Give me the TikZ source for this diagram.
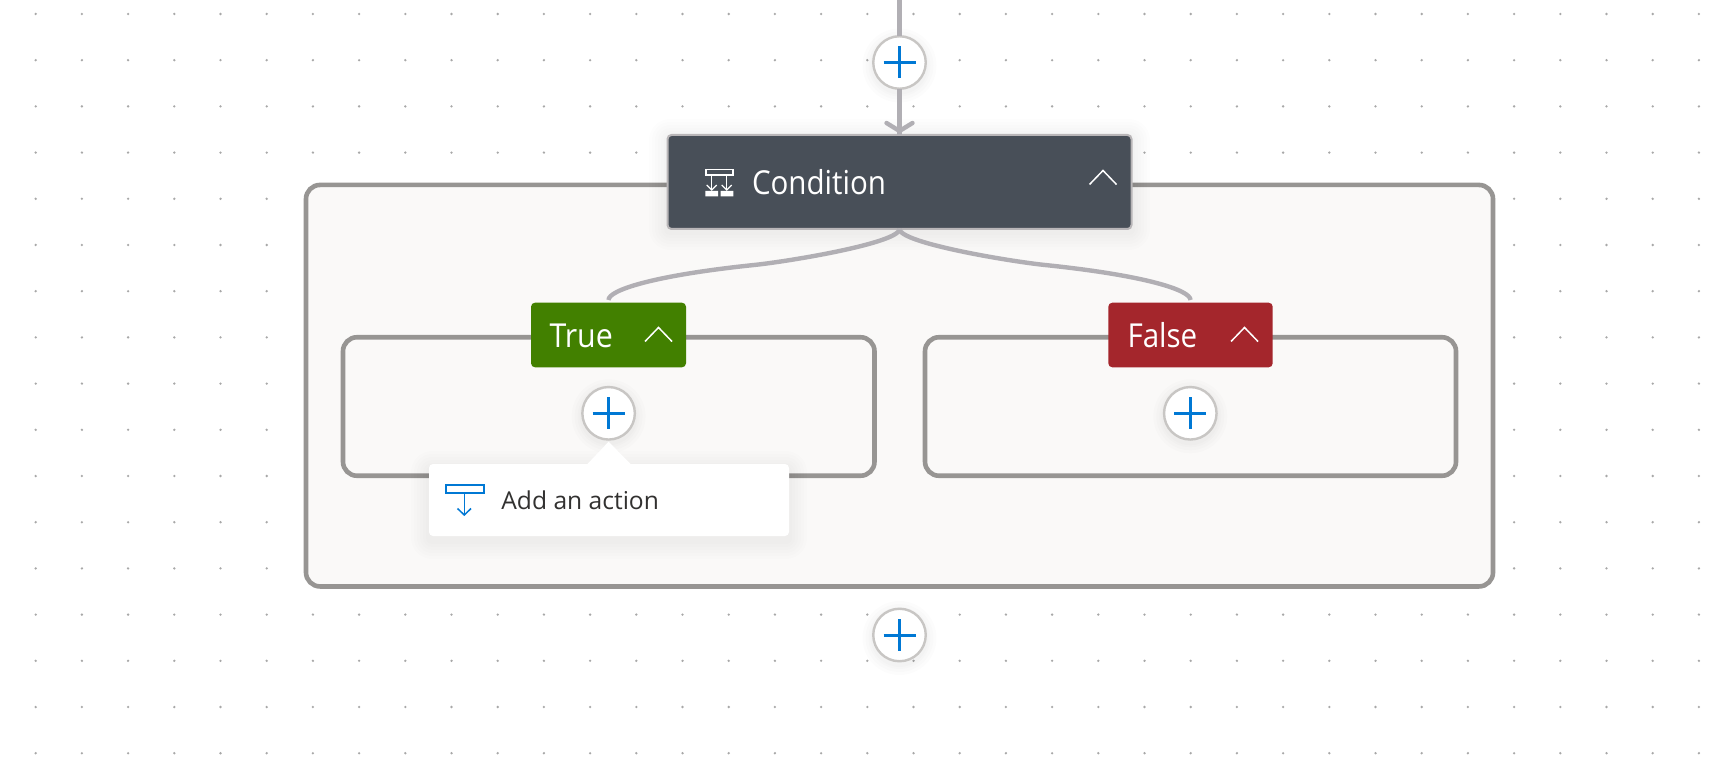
\documentclass[tikz,border=0pt]{standalone}
\usepackage{fontspec}
\setmainfont{Open Sans}
\newfontfamily\headfont[FakeStretch=0.895]{Open Sans}
\newfontfamily\truefont[FakeStretch=0.92]{Open Sans}
\usetikzlibrary{arrows.meta}
\definecolor{panelfill}{HTML}{FAF9F8}
\definecolor{panelline}{HTML}{979593}
\definecolor{conn}{HTML}{B1AFB4}
\definecolor{condfill}{HTML}{484F58}
\definecolor{condline}{HTML}{B9B6B8}
\definecolor{truefill}{HTML}{428000}
\definecolor{falsefill}{HTML}{A4262C}
\definecolor{azure}{HTML}{0078D4}
\definecolor{ringc}{HTML}{C8C6C4}
\definecolor{dotc}{HTML}{A8A8A8}
\definecolor{inktext}{HTML}{323130}
\newcommand{\softshadow}[6]{% x0,y0,x1,y1,offset,opacity
  \foreach \g in {18,15,12,9,6,3}{
    \fill[black,opacity=#6,rounded corners=3pt+\g*1pt] (#1-\g,#2-\g+#5) rectangle (#3+\g,#4+\g+#5);
  }}
\newcommand{\chevup}[3]{% centre x, peak y, half width
  \draw[white,line width=1.5pt] (#1-#3,#2+14) -- (#1,#2) -- (#1+#3,#2+14);}
\tikzset{
  panel/.style={draw=panelline,line width=4.6pt,fill=panelfill,rounded corners=14pt,inner sep=0pt,outer sep=0pt},
  headbox/.style={rounded corners=4pt,inner sep=0pt,outer sep=0pt,text=white},
  plusnode/.style={circle,draw=ringc,line width=2.4pt,fill=white,minimum size=52.5pt,inner sep=0pt,outer sep=0pt},
  plusmark/.style={draw=azure,line width=3pt},
  conline/.style={draw=conn,line width=4.4pt},
  label/.style={anchor=base west,inner sep=0pt,outer sep=0pt},
}
\newcommand{\plusat}[3]{%
  \foreach \g in {10,7,4,2}{\fill[black,opacity=0.012] (#2,#3+3) circle ({27+\g});}
  \node[plusnode] (#1) at (#2,#3) {};
  \draw[plusmark] (#2-16,#3) -- (#2+16,#3);
  \draw[plusmark] (#2,#3-16) -- (#2,#3+16);}
\begin{document}
\begin{tikzpicture}[x=1pt,y=-1pt]
\useasboundingbox (0,0) rectangle (1720,775);
\fill[white] (0,0) rectangle (1720,775);
% dotted canvas
\foreach \i in {0,...,36}{\foreach \j in {0,...,16}{
  \fill[dotc] ({35.7+46.2*\i},{14+46.2*\j}) circle (1.3);}}
% panels
\node[panel,minimum width=1187pt,minimum height=401.5pt] (outer) at (899.5,385.7) {};
\node[panel,minimum width=531.5pt,minimum height=138.5pt] (truebox) at (608.75,406.5) {};
\node[panel,minimum width=531pt,minimum height=138.5pt] (falsebox) at (1190.5,406.5) {};
% top connector
\coordinate (topend) at (899.5,0);
% headers
\softshadow{667}{135}{1132}{230}{2}{0.008}
\node[headbox,fill=condfill,draw=condline,line width=2pt,minimum width=464pt,minimum height=94pt] (cond) at (899.5,182) {};
\node[headbox,fill=truefill,minimum width=155pt,minimum height=64.6pt] (truehead) at (608.5,335) {};
\node[headbox,fill=falsefill,minimum width=164.4pt,minimum height=64.6pt] (falsehead) at (1190.5,335) {};
\node[label,text=white] (condtext) at (752,195) {\headfont\fontsize{33}{40}\selectfont Condition};
\node[label,text=white] (truetext) at (549.5,347.5) {\truefont\fontsize{33}{40}\selectfont True};
\node[label,text=white] (falsetext) at (1127.5,347.5) {\headfont\fontsize{33}{40}\selectfont False};
\chevup{1103}{170.5}{13.5}
\chevup{658.5}{327.5}{13.5}
\chevup{1244.5}{327.5}{13.5}
% condition icon
\draw[white,line width=1.5pt] (706,169.5) rectangle (733,175);
\draw[white,line width=1.2pt] (711.7,175) -- (711.7,190) (726.7,175) -- (726.7,190);
\draw[white,line width=1.2pt] (706.7,185) -- (711.7,190) -- (716.7,185) (721.7,185) -- (726.7,190) -- (731.7,185);
\fill[white] (705.3,191) rectangle (718,196.5) (720.7,191) rectangle (733.3,196.5);
% plus buttons
\plusat{plustop}{899.5}{62.5}
\plusat{plustrue}{608.6}{413.3}
\plusat{plusfalse}{1190.3}{413.3}
\plusat{plusbottom}{899.5}{635}
% connectors
\draw[conline] (topend) -- (plustop);
\draw[conline] (plustop) -- (cond.north);
\draw[conn,line width=4.4pt,line cap=round,line join=miter] (886.5,123) -- (899.5,131) -- (912.5,123);
\coordinate (midleft) at (754,265);
\coordinate (midright) at (1045,265);
\coordinate (endleft) at (608.5,300);
\coordinate (endright) at (1190.5,300);
\draw[conline] (cond.south) .. controls +(0,14) and +(35,-3.6) .. (midleft) .. controls +(-100,10.4) and +(0,-10) .. (endleft);
\draw[conline] (cond.south) .. controls +(0,14) and +(-35,-3.6) .. (midright) .. controls +(100,10.4) and +(0,-10) .. (endright);
% popup
\softshadow{429}{464}{789}{536}{5}{0.009}
\node[headbox,fill=white,minimum width=360pt,minimum height=72pt] (popup) at (609,500) {};
\fill[white] (587,464.5) -- (608.6,441.7) -- (631,464.5) -- cycle;
\draw[azure,line width=2pt] (446,485) rectangle (484,493);
\draw[azure,line width=1.5pt] (464.3,493) -- (464.3,515);
\draw[azure,line width=1.5pt] (457.5,508.5) -- (464.3,515) -- (471,508.5);
\node[label,text=inktext] (addtext) at (501.4,509.3) {\fontsize{24.6}{30}\selectfont Add an action};
\end{tikzpicture}
\end{document}
